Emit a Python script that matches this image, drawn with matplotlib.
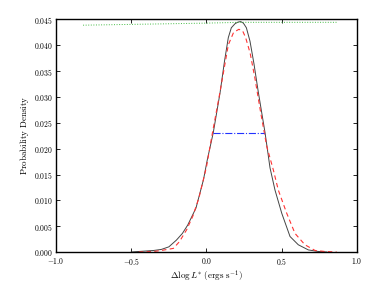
import numpy as np
import matplotlib
matplotlib.use('Agg')
import matplotlib.pyplot as plt

plt.rcParams['mathtext.fontset'] = 'cm'

# curva medida (preta)
x_preta = [-0.50, -0.45, -0.40, -0.35, -0.30, -0.25, -0.20, -0.16, -0.125, -0.07,
           -0.02, 0.005, 0.045, 0.09, 0.12, 0.145, 0.165, 0.19, 0.21, 0.227,
           0.245, 0.265, 0.289, 0.315, 0.344, 0.389, 0.422, 0.455, 0.50, 0.555,
           0.61, 0.677, 0.743, 0.80]
y_preta = [0.0000, 0.0001, 0.0002, 0.0003, 0.0005, 0.0010, 0.0023, 0.0036, 0.0052, 0.0085,
           0.0140, 0.0178, 0.0231, 0.0308, 0.0370, 0.0415, 0.0434, 0.0442, 0.0445, 0.0446,
           0.0443, 0.0434, 0.0408, 0.0365, 0.0310, 0.0231, 0.0163, 0.0120, 0.0075, 0.0030,
           0.0014, 0.0004, 0.0001, 0.0000]

# ajuste (vermelha tracejada)
x_verm = [-0.45, -0.35, -0.30, -0.22, -0.18, -0.132, -0.09, -0.05, 0.00, 0.041,
          0.09, 0.145, 0.18, 0.215, 0.24, 0.26, 0.29, 0.322, 0.36, 0.40,
          0.444, 0.477, 0.533, 0.588, 0.654, 0.721, 0.787, 0.865]
y_verm = [0.0000, 0.0001, 0.0003, 0.0007, 0.0020, 0.0043, 0.0070, 0.0105, 0.0165, 0.0233,
          0.0310, 0.0401, 0.0425, 0.0431, 0.0428, 0.0415, 0.0385, 0.0336, 0.0270, 0.0205,
          0.0159, 0.0120, 0.0075, 0.0036, 0.0014, 0.0003, 0.0001, 0.0000]

# linha verde pontilhada no topo
x_verde = [-0.82, -0.30, 0.00, 0.22, 0.50, 0.87]
y_verde = [0.0439, 0.04415, 0.0443, 0.04445, 0.04445, 0.04445]

# largura a meia altura (azul)
x_azul = [0.043, 0.385]
y_azul = [0.0231, 0.0231]

xticks = [-1.0, -0.5, 0.0, 0.5, 1.0]
yticks = [0.000, 0.005, 0.010, 0.015, 0.020, 0.025, 0.030, 0.035, 0.040, 0.045]

fig = plt.figure(figsize=(3.88, 2.91), dpi=100)
ax = fig.add_axes([0.1443, 0.134, 0.7758, 0.799])

ax.plot(x_preta, y_preta, color='#444444', linewidth=0.7)
ax.plot(x_verm, y_verm, color='#ff3333', linestyle='--', linewidth=0.8, dashes=(4, 3))
ax.plot(x_verde, y_verde, color='#44bb44', linestyle=':', linewidth=0.7)
ax.plot(x_azul, y_azul, color='#2233ff', linestyle='-.', linewidth=0.8)

ax.set_xlim(-1.0, 1.0)
ax.set_ylim(0.0, 0.045)
ax.set_xticks(xticks)
ax.set_xticklabels([r'$%.1f$' % v for v in xticks])
ax.set_yticks(yticks)
ax.set_yticklabels([r'$%.3f$' % v for v in yticks])
ax.tick_params(direction='in', length=3, width=0.6, labelsize=5.5,
               top=True, right=True)
ax.tick_params(axis='x', pad=3)
ax.tick_params(axis='y', pad=2)
for s in ax.spines.values():
    s.set_linewidth(1.0)

ax.set_xlabel(r'$\Delta\log L^{*}\ (\mathrm{ergs\ s}^{-1})$', fontsize=6.5, labelpad=1)
ax.set_ylabel(r'$\mathrm{Probability\ Density}$', fontsize=6.5, labelpad=2)

fig.savefig('out.png', dpi=100)
